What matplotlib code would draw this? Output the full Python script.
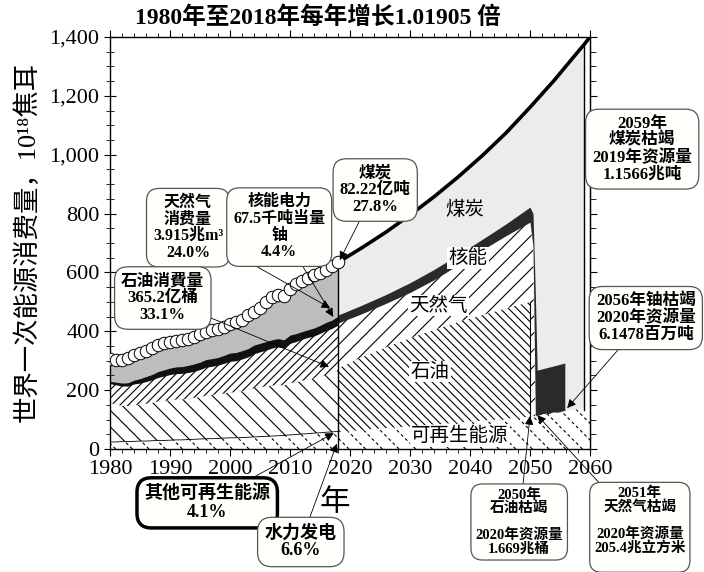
import matplotlib
matplotlib.use("Agg")
import matplotlib.pyplot as plt
import numpy as np
from matplotlib.ticker import MultipleLocator, FuncFormatter, NullFormatter

plt.rcParams['font.family'] = ['Liberation Serif', 'Noto Sans CJK SC', 'DejaVu Sans']
plt.rcParams['hatch.linewidth'] = 0.8

# --- history 1980-2018 (EJ) ---
hist_years = list(range(1980, 2019))
hist_total = [305, 303, 303, 308, 318, 325, 332, 342, 352, 360,
              365, 368, 370, 375, 380, 390, 398, 403, 407, 415,
              425, 430, 440, 455, 465, 480, 500, 515, 525, 520,
              545, 560, 570, 582, 592, 598, 608, 622, 635]
hist_renew = [24, 24, 25, 25, 26, 27, 27, 28, 29, 29,
              30, 31, 31, 32, 33, 34, 35, 35, 36, 37,
              38, 38, 39, 40, 41, 42, 43, 44, 45, 46,
              48, 49, 51, 52, 54, 55, 57, 58, 60]
hist_oil = [132, 127, 122, 121, 123, 123, 127, 129, 133, 135,
            137, 137, 138, 138, 141, 143, 146, 149, 150, 152,
            154, 155, 157, 160, 166, 168, 170, 172, 172, 170,
            176, 178, 181, 184, 186, 191, 195, 200, 208]
hist_gas = [66, 67, 67, 68, 72, 74, 75, 78, 81, 84,
            86, 88, 88, 90, 90, 93, 97, 97, 99, 102,
            106, 107, 110, 113, 117, 120, 123, 127, 130, 127,
            135, 138, 141, 143, 144, 147, 150, 152, 153]
hist_nuclear = [8, 9, 10, 11, 13, 15, 17, 18, 20, 21,
                22, 23, 23, 24, 25, 25, 26, 26, 26, 27,
                28, 28, 28, 28, 29, 29, 29, 28, 28, 28,
                28, 27, 26, 26, 27, 27, 28, 28, 30]

# --- projection 2018-2060 (cumulative tops) ---
total_years = [2018, 2022, 2026, 2030, 2034, 2038, 2042, 2046, 2050, 2054, 2058, 2059, 2060]
total_proj = [634, 684, 737, 795, 857, 924, 996, 1074, 1161, 1252, 1350, 1374, 1400]
renew_years = [2018, 2022, 2026, 2030, 2034, 2038, 2042, 2046, 2050, 2052, 2054, 2056, 2058, 2060]
renew_proj = [58, 64, 71, 77, 83, 90, 96, 103, 109, 118, 124, 129, 135, 143]
proj_years = [2018, 2022, 2026, 2030, 2034, 2038, 2042, 2046, 2050]
oil_top = [275, 312, 346, 377, 405, 431, 455, 478, 500]
gas_top = [428, 460, 495, 532, 575, 625, 676, 725, 771]
nuc_top = [455, 489, 525, 565, 610, 660, 712, 765, 822]
# collapse after depletion
gas_edge_years = [2050, 2050.5, 2050.9]
gas_edge_low = [109, 111, 113]
gas_edge_top = [771, 690, 113]
nuc_edge_years = [2050.5, 2050.9, 2051.2, 2053.5, 2055.8]
nuc_edge_low = [690, 113, 115, 122, 129]
nuc_edge_top = [800, 520, 268, 280, 292]

h = np.array(hist_years)
r1 = np.array(hist_renew)
o1 = r1 + np.array(hist_oil)
g1 = o1 + np.array(hist_gas)
n1 = g1 + np.array(hist_nuclear)

fig = plt.figure(figsize=(7.04, 5.72), dpi=100)
ax = fig.add_axes([110/704, 1-449/572, 480/704, 412/572])

# history
ax.fill_between(h, 0, hist_total, color='#bdbdbd', lw=0, zorder=1)
ax.fill_between(h, 0, r1, facecolor='white', edgecolor='black', hatch='\\\\', lw=0, zorder=2)
with plt.rc_context({'hatch.linewidth': 2.0}):
    ax.fill_between(h, 0, r1, facecolor='none', edgecolor='white', hatch='////', lw=0, zorder=2.1)
ax.fill_between(h, r1, o1, facecolor='white', edgecolor='black', hatch='\\\\', lw=0, zorder=2)
ax.fill_between(h, o1, g1, facecolor='white', edgecolor='black', hatch='////', lw=0, zorder=2)
ax.fill_between(h, g1, n1, color='#111111', lw=0, zorder=2)
ax.plot(h, r1, color='black', lw=0.6, zorder=2.5)

# projection
ax.fill_between(total_years[:-1], 0, total_proj[:-1], color='#ececec', lw=0, zorder=1)
ax.fill_between(renew_years, 0, renew_proj, facecolor='white', edgecolor='black', hatch='\\\\', lw=0, zorder=2)
with plt.rc_context({'hatch.linewidth': 2.0}):
    ax.fill_between(renew_years, 0, renew_proj, facecolor='none', edgecolor='white', hatch='////', lw=0, zorder=2.1)
ax.fill_between(proj_years, renew_proj[:9], oil_top, facecolor='white', edgecolor='black',
                hatch='\\\\\\\\', lw=0, zorder=2)
ax.fill_between(proj_years + gas_edge_years, oil_top + gas_edge_low, gas_top + gas_edge_top,
                facecolor='white', edgecolor='black', hatch='//', lw=0, zorder=2)
ax.fill_between(proj_years + nuc_edge_years, gas_top + nuc_edge_low, nuc_top + nuc_edge_top,
                color='#2a2a2a', lw=0, zorder=2)
ax.plot(total_years, total_proj, color='black', lw=2.6, zorder=4, solid_capstyle='butt')
ax.plot([2018, 2018], [0, total_proj[0]], color='black', lw=1, zorder=3)
ax.plot([2050, 2050], [renew_proj[8], oil_top[-1]], color='black', lw=0.8, zorder=3)
ax.plot([2059, 2059], [133, total_proj[-2]], color='black', lw=1, zorder=3)

# circles for historical totals
ax.plot(h, hist_total, 'o', ms=9, mfc='white', mec='black', mew=0.7, zorder=5)

ax.set_xlim(1980, 2060)
ax.set_ylim(0, 1400)
ax.xaxis.set_major_locator(MultipleLocator(10))
ax.xaxis.set_minor_locator(MultipleLocator(2))
ax.yaxis.set_major_locator(MultipleLocator(200))
ax.yaxis.set_minor_locator(MultipleLocator(50))
ax.yaxis.set_major_formatter(FuncFormatter(lambda v, p: f"{int(v):,}"))
ax.tick_params(axis='x', which='both', top=True, direction='out', labelsize=16, pad=3)
ax.tick_params(axis='x', which='major', length=5)
ax.tick_params(axis='x', which='minor', length=3)
ax.tick_params(axis='y', which='both', direction='inout', labelsize=16, pad=3)
ax.tick_params(axis='y', which='major', length=9)
ax.tick_params(axis='y', which='minor', length=6)
sec = ax.secondary_yaxis('right')
sec.yaxis.set_major_locator(MultipleLocator(200))
sec.yaxis.set_minor_locator(MultipleLocator(50))
sec.yaxis.set_major_formatter(NullFormatter())
sec.tick_params(which='both', direction='out')
sec.tick_params(which='major', length=5)
sec.tick_params(which='minor', length=4)
for s in ax.spines.values():
    s.set_linewidth(1)

# texts
fig.text(318/704, 1-18/572, '1980年至2018年每年增长1.01905 倍', ha='center', va='center',
         fontsize=17, fontweight='bold')
fig.text(27/704, 1-242/572, '世界一次能源消费量，10¹⁸焦耳', rotation=90, ha='center', va='center',
         fontsize=19)
ax.text(2017.5, -185, '年', ha='center', va='center', fontsize=22)

for txt, x, y in [('煤炭', 2039.2, 812), ('核能', 2039.7, 649), ('天然气', 2034.7, 486),
                  ('石油', 2033.3, 262), ('可再生能源', 2038.3, 44)]:
    ax.text(x, y, txt, ha='center', va='center', fontsize=14, zorder=6,
            bbox=dict(facecolor='white', edgecolor='none', pad=1) if txt != '煤炭' else None)

def box(txt, xy, xt, lw=0.9, ec='#555555', fs=11.5, pad=0.4, ls=1.05):
    bb = dict(boxstyle=f'round,pad={pad},rounding_size=0.8', facecolor='#fffffb', edgecolor=ec, lw=lw)
    if xy is None:
        ax.text(xt[0], xt[1], txt, ha='center', va='center', fontsize=fs, fontweight='bold',
                linespacing=ls, bbox=bb, clip_on=False, zorder=7)
        return
    ap = dict(arrowstyle='-|>', color='black', lw=0.6, mutation_scale=13, shrinkA=0, shrinkB=0)
    ax.annotate(txt, xy=xy, xytext=xt, ha='center', va='center', fontsize=fs, fontweight='bold',
                linespacing=ls, bbox=bb, arrowprops=ap, annotation_clip=False, zorder=7)

box('天然气\n消费量\n3.915兆m³\n24.0%', (2016.7, 479), (1993.0, 752))
box('核能电力\n67.5千吨当量\n铀\n4.4%', (2017.2, 449), (2008.2, 754))
box('石油消費量\n365.2亿桶\n33.1%', (2016.5, 279), (1988.8, 513), fs=12)
box('煤炭\n82.22亿吨\n27.8%', (2018.3, 642), (2024.2, 880), fs=12)
box('2059年\n煤炭枯竭\n2019年资源量\n1.1566兆吨', None, (2068.7, 1019), fs=12)
box('2056年铀枯竭\n2020年资源量\n6.1478百万吨', (2056.2, 139), (2069.3, 445), fs=12)
box('其他可再生能源\n4.1%', (2017.3, 54), (1996.2, -183), lw=2.5, ec='black', fs=13)
box('水力发电\n6.6%', (2017.8, 18), (2011.8, -316), fs=13)
box('2050年\n石油枯竭\n\n2020年资源量\n1.669兆桶', (2050, 112), (2048.2, -248),
    fs=10.5, pad=0.3, ls=1.0)
box('2051年\n天然气枯竭\n\n2020年资源量\n205.4兆立方米\n', (2051.2, 115), (2068.3, -266),
    fs=10.5, pad=0.3, ls=1.0)

fig.savefig('out.png', dpi=100)
